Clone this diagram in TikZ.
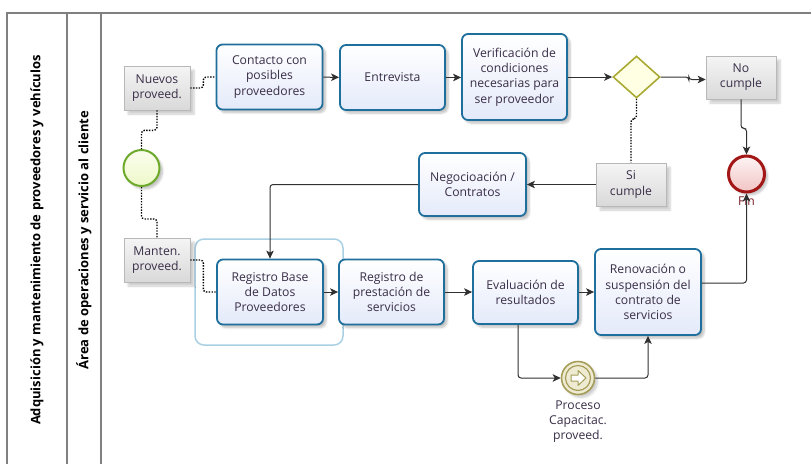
\documentclass[tikz,border=0pt]{standalone}
\usepackage{fontspec}
\setmainfont{Open Sans}
\usetikzlibrary{shapes.geometric,arrows.meta,shadows.blur,calc}
\definecolor{taskblue}{HTML}{1F6F9C}
\definecolor{taskfill}{HTML}{E4EAFA}
\definecolor{txt}{HTML}{3A2E48}
\definecolor{annbd}{HTML}{B8B8B8}
\definecolor{annfill}{HTML}{D9D9D9}
\definecolor{startbd}{HTML}{6DAA2C}
\definecolor{startfill}{HTML}{EEF8C8}
\definecolor{endbd}{HTML}{A31616}
\definecolor{endfill}{HTML}{F2C4C4}
\definecolor{gatebd}{HTML}{A9A934}
\definecolor{gatefill}{HTML}{FFFFE4}
\definecolor{evbd}{HTML}{A59D57}
\definecolor{evfill}{HTML}{EFEBD2}
\definecolor{groupbd}{HTML}{A9D0E3}
\definecolor{lanebd}{HTML}{808080}
\definecolor{flowc}{HTML}{303030}
\tikzset{
  lbl/.style={font=\fontsize{12.2}{15.2}\selectfont, text=txt, align=center},
  task/.style={lbl, draw=taskblue, line width=1.8pt, rounded corners=6pt,
    top color=white, bottom color=taskfill, inner sep=0pt,
    blur shadow={shadow xshift=3pt, shadow yshift=-3pt, shadow blur steps=6, shadow opacity=25}},
  annot/.style={lbl, draw=annbd, line width=0.6pt, top color=white!96!black, bottom color=annfill,
    minimum width=66pt, minimum height=44pt, inner sep=0pt,
    blur shadow={shadow xshift=4pt, shadow yshift=-4pt, shadow blur steps=6, shadow opacity=20}},
  startev/.style={circle, draw=startbd, line width=2pt, top color=white!70!startfill, bottom color=startfill,
    minimum size=36pt, inner sep=0pt,
    blur shadow={shadow xshift=3pt, shadow yshift=-3pt, shadow blur steps=6, shadow opacity=25}},
  endev/.style={circle, draw=endbd, line width=3pt, top color=white!80!endfill, bottom color=endfill,
    minimum size=36pt, inner sep=0pt,
    blur shadow={shadow xshift=3pt, shadow yshift=-3pt, shadow blur steps=6, shadow opacity=25}},
  gate/.style={diamond, draw=gatebd, line width=1.6pt, fill=gatefill, aspect=1.12,
    minimum width=47pt, minimum height=42pt, inner sep=0pt},
  interev/.style={circle, draw=evbd, line width=1.6pt, fill=evfill, minimum size=33pt, inner sep=0pt,
    blur shadow={shadow xshift=3pt, shadow yshift=-3pt, shadow blur steps=6, shadow opacity=20}},
  flow/.style={draw=flowc, line width=1pt, rounded corners=3pt, -{Stealth[length=8pt,width=7.5pt,inset=2pt]}},
  assoc/.style={draw=black, line width=1.4pt, dash pattern=on 1.4pt off 1.4pt, rounded corners=3pt},
  lane/.style={draw=lanebd, line width=1.3pt},
  lanetitle/.style={rotate=90, font=\fontsize{13}{15}\bfseries, text=black},
}
\begin{document}
\begin{tikzpicture}[x=1pt,y=-1pt]
\useasboundingbox (0,0) rectangle (811,464);

% pool and lane frame
\draw[lane] (7,464) -- (7,13) -- (811,13);
\draw[lane] (67,13) -- (67,464);
\draw[lane] (101,13) -- (101,464);
\node[lanetitle] (pool) at (37,240) {Adquisición y mantenimiento de proveedores y vehículos};
\node[lanetitle] (lanename) at (84,240) {Área de operaciones y servicio al cliente};

% group around the supplier database task
\draw[groupbd, line width=1.5pt, rounded corners=9pt] (195,239) rectangle (343,345);

% tasks
\node[task, minimum width=106pt, minimum height=65pt] (con) at (269.5,77) {Contacto con\\posibles\\proveedores};
\node[task, minimum width=105pt, minimum height=65pt] (ent) at (392.5,77.5) {Entrevista};
\node[task, minimum width=105pt, minimum height=86pt] (ver) at (514.5,77) {Verificación de\\condiciones\\necesarias para\\ser proveedor};
\node[task, minimum width=107pt, minimum height=63pt] (neg) at (472.5,184.5) {Negocioación /\\Contratos};
\node[task, minimum width=106pt, minimum height=65pt] (rb) at (270,292) {Registro Base\\de Datos\\Proveedores};
\node[task, minimum width=105pt, minimum height=65pt] (rp) at (391.5,292) {Registro de\\prestación de\\servicios};
\node[task, minimum width=105pt, minimum height=63pt] (ev) at (525.5,292.5) {Evaluación de\\resultados};
\node[task, minimum width=106pt, minimum height=86pt] (ren) at (648,292) {Renovación o\\suspensión del\\contrato de\\servicios};

% annotations
\node[annot] (nue) at (157,88) {Nuevos\\proveed.};
\node[annot] (man) at (157,260) {Manten.\\proveed.};
\node[annot, minimum width=70pt, minimum height=43pt] (no) at (741,77.5) {No\\cumple};
\node[annot, minimum width=70pt, minimum height=43pt] (si) at (631,184.5) {Si\\cumple};

% events and gateway
\node[startev] (start) at (141.5,168) {};
\node[endev] (fin) at (746.5,174) {};
\node[gate] (dia) at (636.5,77) {};
\node[interev] (cap) at (578,378) {};
\draw[evbd, line width=1.2pt] (cap) circle (12.5pt);
\draw[evbd, line width=1pt, fill=white, line join=round]
  ($(cap)+(-7,-3)$) -- ($(cap)+(0,-3)$) -- ($(cap)+(0,-7.5)$) -- ($(cap)+(8,0)$)
  -- ($(cap)+(0,7.5)$) -- ($(cap)+(0,3)$) -- ($(cap)+(-7,3)$) -- cycle;

% event labels
\node[lbl, anchor=north, text=endbd!60!txt] (finlbl) at (746.5,193) {Fin};
\node[lbl, anchor=north] (caplbl) at (578,397) {Proceso\\Capacitac.\\proveed.};

% associations
\draw[assoc] (nue.east) -- ++(13,0) |- (con.west);
\draw[assoc] (nue.south) -- ++(0,20) -| (start.north);
\draw[assoc] (start.south) -- ++(0,32) -| (man.north);
\draw[assoc] (man.east) -- ++(13,0) |- (rb.west);
\draw[assoc] (dia.south) -- ++(0,20) -| (si.north);

% sequence flows
\draw[flow] (con) -- (ent);
\draw[flow] (ent) -- (ver.west |- ent);
\draw[flow] (ver.east |- dia) -- (dia.west);
\draw[flow] (dia.east) -- ++(28,0) |- ([yshift=-2pt]no.west);
\draw[flow] (no.south) -- ++(0,29) -| (fin.north);
\draw[flow] (si.west) -- (neg.east);
\draw[flow] (neg.west) -| (rb.north);
\draw[flow] (rb) -- (rp);
\draw[flow] (rp) -- (ev.west |- rp);
\draw[flow] (ev.east |- rp) -- (ren.west |- rp);
\draw[flow] ([yshift=9pt]ren.east) -| (fin.south);
\draw[flow] ([xshift=-7.5pt]ev.south) |- (cap.west);
\draw[flow] (cap.east) -| (ren.south);
\end{tikzpicture}
\end{document}
